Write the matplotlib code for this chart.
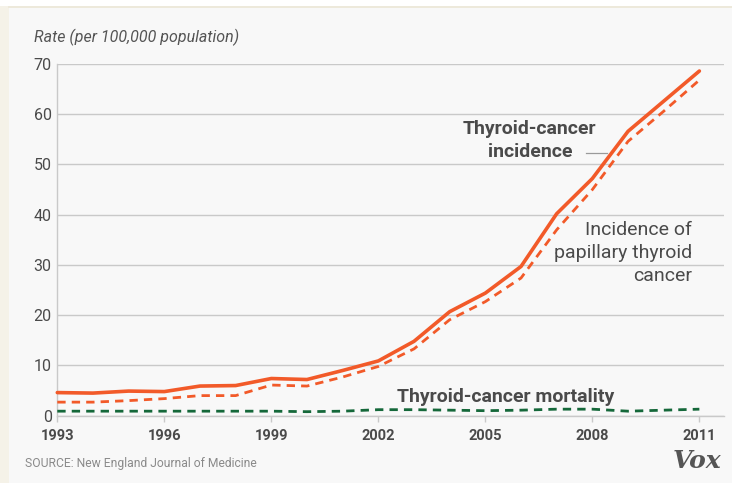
import matplotlib
matplotlib.use("Agg")
import matplotlib.pyplot as plt
from matplotlib.patches import Rectangle
from matplotlib.lines import Line2D

# Rates per 100,000 population
years = list(range(1993, 2012))
incidence = [4.6, 4.5, 4.9, 4.8, 5.9, 6.0, 7.4, 7.2, 9.0, 10.9,
             14.8, 20.7, 24.4, 29.7, 40.2, 47.2, 56.6, 62.6, 68.6]
papillary = [2.7, 2.7, 3.0, 3.4, 4.0, 4.0, 6.1, 5.9, 7.7, 9.8,
             13.3, 19.1, 22.7, 27.4, 37.0, 45.0, 54.6, 60.6, 66.8]
mortality = [0.9, 0.9, 0.9, 0.9, 0.9, 0.9, 0.9, 0.8, 0.9, 1.2,
             1.2, 1.1, 1.0, 1.1, 1.3, 1.3, 0.9, 1.1, 1.3]
x_ticks = [1993, 1996, 1999, 2002, 2005, 2008, 2011]
y_ticks = [0, 10, 20, 30, 40, 50, 60, 70]

ORANGE = "#f25a29"
GREEN = "#15683a"
TEXT = "#4a4a4a"
GRID = "#c9c9c9"
FONT = "Roboto"

W, H = 732, 483
fig = plt.figure(figsize=(W / 100, H / 100), dpi=100, facecolor="#f8f8f8")

# Frame strips around the panel
fig.patches.append(Rectangle((0, 0), 9 / W, 1, transform=fig.transFigure,
                             facecolor="#f5f2e8", edgecolor="none", zorder=0))
fig.patches.append(Rectangle((0, 1 - 6 / H), 1, 6 / H, transform=fig.transFigure,
                             facecolor="white", edgecolor="none", zorder=0))
fig.lines.append(Line2D([9 / W, 1], [1 - 6.5 / H, 1 - 6.5 / H], transform=fig.transFigure,
                        color="#ebe6d6", lw=1.2))

left, right = 57.3 / W, 724 / W
bottom, top = 1 - 415.7 / H, 1 - 64 / H
ax = fig.add_axes([left, bottom, right - left, top - bottom])
ax.set_facecolor("#f8f8f8")

x_max = 1993 + (724 - 57.3) / 35.67
ax.set_xlim(1993, x_max)
ax.set_ylim(0, 70)

for s in ["top", "right"]:
    ax.spines[s].set_visible(False)
for s in ["left", "bottom"]:
    ax.spines[s].set_color(GRID)
    ax.spines[s].set_linewidth(1.0)

ax.set_yticks(y_ticks)
ax.set_yticklabels([str(v) for v in y_ticks], fontsize=11.5, color=TEXT, family=FONT)
ax.tick_params(axis="y", length=0, pad=4)
ax.set_xticks(x_ticks)
ax.set_xticklabels([str(v) for v in x_ticks], fontsize=10.5, color=TEXT,
                   family=FONT, fontweight="bold")
ax.tick_params(axis="x", length=4.5, width=1, color=GRID, pad=5, direction="out")
ax.yaxis.grid(True, color=GRID, lw=1.0)
ax.set_axisbelow(True)

ax.plot(years, mortality, color=GREEN, lw=2.0, dashes=(3.0, 2.2), clip_on=False,
        zorder=3)
ax.plot(years, papillary, color=ORANGE, lw=2.0, dashes=(3.0, 2.2), clip_on=False,
        zorder=3)
ax.plot(years, incidence, color=ORANGE, lw=2.6, clip_on=False, zorder=4,
        solid_capstyle="round")

# Series labels
ax.text(2006.25, 54.8, "Thyroid-cancer\nincidence", ha="center", va="center",
        multialignment="center", fontsize=14, fontweight="bold", color=TEXT,
        family=FONT, linespacing=1.38)
ax.plot([2007.81, 2008.40], [52.3, 52.3], color="#9a9a9a", lw=0.9)
ax.text(2010.79, 32.4, "Incidence of\npapillary thyroid\ncancer", ha="right",
        va="center", multialignment="right", fontsize=14, color=TEXT,
        family=FONT, linespacing=1.35)
ax.text(2002.52, 3.7, "Thyroid-cancer mortality", ha="left", va="center",
        fontsize=14, fontweight="bold", color=TEXT, family=FONT)

# Header, source and logo
fig.text(34 / W, 1 - 37.7 / H, "Rate (per 100,000 population)", ha="left",
         va="center", fontsize=11.5, style="italic", color="#555555", family=FONT)
fig.text(25 / W, 1 - 463.3 / H, "SOURCE: New England Journal of Medicine",
         ha="left", va="center", fontsize=8.7, color="#8a8a8a", family=FONT)
fig.text(721 / W, 1 - 461 / H, "Vox", ha="right", va="center", fontsize=18,
         fontweight="bold", style="italic", color="#555555",
         family="DejaVu Serif")

fig.savefig("out.png", dpi=100, facecolor=fig.get_facecolor())
